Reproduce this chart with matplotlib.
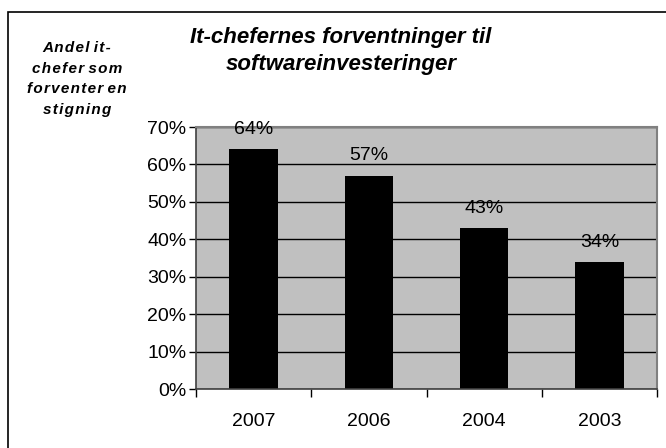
import matplotlib.pyplot as plt
from matplotlib.patches import Rectangle
from matplotlib.ticker import FixedLocator

# Data
years = ['2007', '2006', '2004', '2003']
values = [64, 57, 43, 34]
y_ticks = [0, 10, 20, 30, 40, 50, 60, 70]

plt.rcParams['font.family'] = ['Liberation Sans', 'DejaVu Sans']

W, H = 666, 448
fig = plt.figure(figsize=(W / 100, H / 100), dpi=100)

# Outer chart border (only top and left visible in the original crop)
fig.add_artist(Rectangle((8 / W, -0.1), 1.2, (H - 12) / H + 0.1,
                         transform=fig.transFigure, fill=False,
                         edgecolor='black', linewidth=1.2))

# Plot area
left, right, top, bottom = 196, 657, 127, 389
ax = fig.add_axes([left / W, 1 - bottom / H, (right - left) / W, (bottom - top) / H])
ax.set_facecolor('#C0C0C0')

x = list(range(len(years)))
ax.bar(x, values, width=0.42, color='black', zorder=2)
for xi, v in zip(x, values):
    ax.text(xi, v + 3.0, f'{v}%', ha='center', va='bottom', fontsize=14, zorder=3)

ax.set_xlim(-0.5, len(years) - 0.5)
ax.set_ylim(0, 70)
ax.set_yticks(y_ticks)
ax.set_yticklabels([f'{t}%' for t in y_ticks], fontsize=14)
ax.yaxis.grid(True, color='black', linewidth=1, zorder=1)
ax.set_axisbelow(True)
ax.set_xticks(x)
ax.set_xticklabels(years, fontsize=14)
ax.tick_params(axis='x', length=0, pad=17)
ax.xaxis.set_minor_locator(FixedLocator([i - 0.5 for i in range(len(years) + 1)]))
ax.tick_params(axis='x', which='minor', length=6, width=1, color='black')
ax.tick_params(axis='y', length=5, width=1, color='black', pad=2)

for s in ['top', 'right']:
    ax.spines[s].set_color('#808080')
    ax.spines[s].set_linewidth(1.5)
for s in ['left', 'bottom']:
    ax.spines[s].set_color('#404040')
    ax.spines[s].set_linewidth(1.2)

# Title
fig.text(341 / W, 1 - 51 / H, 'It-chefernes forventninger til\nsoftwareinvesteringer',
         ha='center', va='center', fontsize=16, fontweight='bold',
         fontstyle='italic', linespacing=1.38)

# Y-axis label in the top-left corner (letter-spaced like the original)
hs = '\u200a'
lines = ['Andel it-', 'chefer som', 'forventer en', 'stigning']
ylab = '\n'.join(' '.join(hs.join(w) for w in line.split(' ')) for line in lines)
fig.text(77 / W, 1 - 79 / H, ylab,
         ha='center', va='center', fontsize=11, fontweight='bold',
         fontstyle='italic', linespacing=1.6)

fig.savefig('out.png', dpi=100)
